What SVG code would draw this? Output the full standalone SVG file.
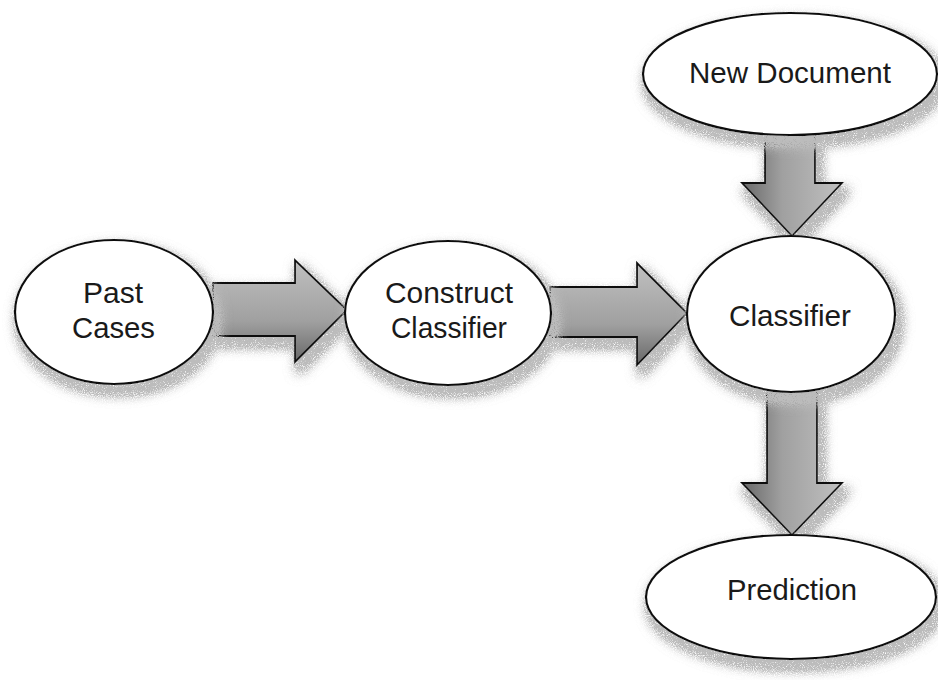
<svg xmlns="http://www.w3.org/2000/svg" width="938" height="680" viewBox="0 0 938 680">
  <style>
    .node { fill: #ffffff; stroke: #111111; stroke-width: 2.2; }
    .lbl { font-family: "Liberation Sans", Arial, sans-serif; font-size: 29px; fill: #1a1a1a; text-anchor: start; }
    .arrow { stroke: #111111; stroke-width: 1.8; stroke-linejoin: miter; }
    .h { fill: url(#gradH); }
    .v { fill: url(#gradV); }
  </style>
  <defs>
    <!-- speckled drop shadow, spread mostly below and to the right -->
    <filter id="shadow" x="-20%" y="-20%" width="150%" height="160%">
      <feMorphology in="SourceAlpha" operator="dilate" radius="2" result="grow"/>
      <feOffset in="grow" dx="4" dy="8" result="off"/>
      <feGaussianBlur in="off" stdDeviation="6" result="blur"/>
      <feTurbulence type="fractalNoise" baseFrequency="1.1" numOctaves="1" seed="7" result="noise"/>
      <feColorMatrix in="noise" type="matrix" values="0 0 0 0 0.5  0 0 0 0 0.5  0 0 0 0 0.5  0 0 0 2.4 -0.5" result="grain"/>
      <feComposite in="grain" in2="blur" operator="in" result="grainShadow"/>
      <feComponentTransfer in="grainShadow" result="strong">
        <feFuncA type="linear" slope="2.4"/>
      </feComponentTransfer>
      <feMerge>
        <feMergeNode in="strong"/>
        <feMergeNode in="SourceGraphic"/>
      </feMerge>
    </filter>
    <linearGradient id="gradH" x1="0" y1="0" x2="0" y2="1">
      <stop offset="0" stop-color="#c0c0c0"/>
      <stop offset="0.6" stop-color="#a0a0a0"/>
      <stop offset="1" stop-color="#686868"/>
    </linearGradient>
    <linearGradient id="gradV" x1="1" y1="0" x2="0" y2="0">
      <stop offset="0" stop-color="#c0c0c0"/>
      <stop offset="0.6" stop-color="#a0a0a0"/>
      <stop offset="1" stop-color="#686868"/>
    </linearGradient>
  </defs>

  <!-- block arrows between the stages -->
  <g id="connectors" filter="url(#shadow)">
    <polygon class="arrow h" points="213,283 295,283 295,260 347,310 295,362 295,336 213,336"/>
    <polygon class="arrow h" points="550,287 637,287 637,263 687,313 637,365 637,337 550,337"/>
    <polygon class="arrow v" points="765,133 815,133 815,183 842,183 792,236 742,183 765,183"/>
    <polygon class="arrow v" points="767,390 817,390 817,483 842,483 792,535 742,483 767,483"/>
  </g>

  <g id="past-cases">
    <ellipse class="node" cx="114" cy="312" rx="99" ry="72" filter="url(#shadow)"/>
    <text class="lbl" x="83" y="303" textLength="60" lengthAdjust="spacingAndGlyphs">Past</text>
    <text class="lbl" x="72" y="338" textLength="83" lengthAdjust="spacingAndGlyphs">Cases</text>
  </g>

  <g id="construct-classifier">
    <ellipse class="node" cx="448" cy="313" rx="103" ry="72" filter="url(#shadow)"/>
    <text class="lbl" x="385" y="303" textLength="128" lengthAdjust="spacingAndGlyphs">Construct</text>
    <text class="lbl" x="391" y="338" textLength="116" lengthAdjust="spacingAndGlyphs">Classifier</text>
  </g>

  <g id="classifier">
    <ellipse class="node" cx="791" cy="314" rx="104" ry="78" filter="url(#shadow)"/>
    <text class="lbl" x="729" y="326" textLength="122" lengthAdjust="spacingAndGlyphs">Classifier</text>
  </g>

  <g id="new-document">
    <ellipse class="node" cx="790" cy="74" rx="147" ry="61" filter="url(#shadow)"/>
    <text class="lbl" x="689" y="83" textLength="202" lengthAdjust="spacingAndGlyphs">New Document</text>
  </g>

  <g id="prediction">
    <ellipse class="node" cx="791" cy="597" rx="145" ry="62" filter="url(#shadow)"/>
    <text class="lbl" x="727" y="600" textLength="130" lengthAdjust="spacingAndGlyphs">Prediction</text>
  </g>
</svg>
